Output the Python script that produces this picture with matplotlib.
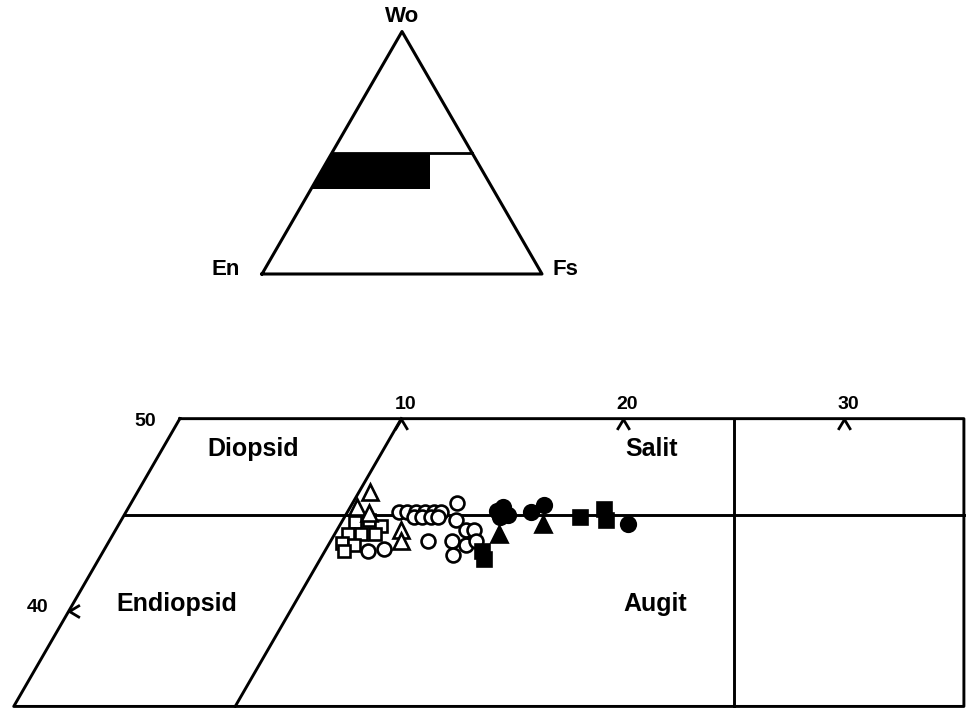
import numpy as np
import matplotlib.pyplot as plt
from matplotlib.path import Path

plt.rcParams['font.family'] = ['Liberation Sans', 'DejaVu Sans']
plt.rcParams['font.weight'] = 'bold'

# pyroxene analyses, (Fs %, Wo %)
open_tri_fs = [10.5, 10.3, 11.0, 12.9, 13.2]
open_tri_wo = [46.2, 45.4, 45.1, 44.2, 43.6]

open_sq_fs = [10.6, 11.2, 11.9, 10.6, 11.2, 11.8, 10.55, 11.15, 10.85]
open_sq_wo = [44.6, 44.7, 44.4, 44.0, 44.0, 44.0, 43.5, 43.4, 43.1]

open_ci_fs = [12.3, 12.7, 13.1, 13.5, 13.9, 14.2, 13.1, 13.5, 13.9, 14.2,
              14.7, 15.1, 15.8, 16.2, 14.4, 15.5, 16.2, 16.55, 15.9, 11.95, 12.6]
open_ci_wo = [45.15, 45.15, 45.15, 45.15, 45.15, 45.15, 44.9, 44.9, 44.9, 44.9,
              45.6, 44.7, 44.2, 44.2, 43.6, 43.6, 43.4, 43.6, 42.9, 43.1, 43.2]

fill_ci_fs = [16.7, 16.9, 17.0, 17.3, 18.3, 18.7, 23.0]
fill_ci_wo = [45.2, 45.4, 44.9, 45.0, 45.15, 45.5, 44.5]

fill_tri_fs = [17.4, 19.15]
fill_tri_wo = [44.0, 44.5]

fill_sq_fs = [17.1, 17.4, 20.6, 21.5, 21.9]
fill_sq_wo = [43.1, 42.7, 44.9, 45.3, 44.7]

# field boundaries
wo_top, wo_mid, wo_bot = 50, 45, 35
fs_div = 10          # Diopsid / Salit boundary
right_x = 60.4       # right frame edge (Fs + Wo/2)
inset_right_x = 60

fs_ticks = [10, 20, 30]
wo_ticks = [40]


def tern(fs, wo):
    fs = np.asarray(fs, dtype=float)
    wo = np.asarray(wo, dtype=float)
    return fs + wo / 2, wo * np.sqrt(3) / 2


def fs_at(x, wo):
    return x - wo / 2


fig = plt.figure(figsize=(9.67, 7.08), dpi=100)

# ---- lower panel: part of the pyroxene quadrilateral
ax = fig.add_axes([0, 0, 1, 1])
ax.set_xlim(16.88, 60.54)
ax.set_ylim(30.24, 62.20)
ax.axis('off')
lw = 2.1
k = dict(color='black', lw=lw, solid_capstyle='projecting', clip_on=False)

# outer frame
fx = [0, fs_at(right_x, wo_top), fs_at(right_x, wo_bot), 0, 0]
fw = [wo_top, wo_top, wo_bot, wo_bot, wo_top]
ax.plot(*tern(fx, fw), **k)
# Wo = 45 line
ax.plot(*tern([0, fs_at(right_x, wo_mid)], [wo_mid, wo_mid]), **k)
# Fs = 10 line
ax.plot(*tern([fs_div, fs_div], [wo_top, wo_bot]), **k)
# En = Fs line (vertical)
ax.plot(*tern([fs_at(50, wo_top), fs_at(50, wo_bot)], [wo_top, wo_bot]), **k)

# tick carets
caret_up = Path([(-0.6, -1), (0, 0), (0.6, -1)], [Path.MOVETO, Path.LINETO, Path.LINETO])
caret_left = Path([(1, 0.6), (0, 0), (1, -0.6)], [Path.MOVETO, Path.LINETO, Path.LINETO])
tx, ty = tern(fs_ticks, [wo_top] * len(fs_ticks))
ax.plot(tx, ty, ls='none', marker=caret_up, ms=15, mfc='none', mec='black', mew=2.0)
for t, x, y in zip(fs_ticks, tx, ty):
    ax.annotate(str(t), (x, y), xytext=(3, 4), textcoords='offset points',
                ha='center', va='bottom', fontsize=14)
wx, wy = tern([0] * len(wo_ticks), wo_ticks)
ax.plot(wx, wy, ls='none', marker=caret_left, ms=15, mfc='none', mec='black', mew=2.0)
for t, x, y in zip(wo_ticks, wx, wy):
    ax.annotate(str(t), (x, y), xytext=(-23, 2), textcoords='offset points',
                ha='center', va='center', fontsize=14)
x50, y50 = tern(0, wo_top)
ax.annotate(str(wo_top), (x50, y50), xytext=(-25, -2), textcoords='offset points',
            ha='center', va='center', fontsize=14)

# field names
fields = ['Diopsid', 'Salit', 'Endiopsid', 'Augit']
field_fs = [4.1, 22.1, 4.7, 26.3]
field_wo = [48.4, 48.4, 40.35, 40.35]
for name, f, w in zip(fields, field_fs, field_wo):
    ax.text(*tern(f, w), name, ha='center', va='center', fontsize=18)

# data points
ms_kw = dict(ls='none', mec='black', mew=1.9, zorder=5)
ax.plot(*tern(open_ci_fs, open_ci_wo), marker='o', ms=10, mfc='white', **ms_kw)
ax.plot(*tern(open_sq_fs, open_sq_wo), marker='s', ms=9, mfc='white', **ms_kw)
ax.plot(*tern(open_tri_fs, open_tri_wo), marker='^', ms=12, mfc='white', **ms_kw)
ax.plot(*tern(fill_ci_fs, fill_ci_wo), marker='o', ms=10.5, mfc='black', **ms_kw)
ax.plot(*tern(fill_sq_fs, fill_sq_wo), marker='s', ms=9.5, mfc='black', **ms_kw)
ax.plot(*tern(fill_tri_fs, fill_tri_wo), marker='^', ms=12, mfc='black', **ms_kw)

# ---- inset: Wo-En-Fs triangle with the shown field blacked in
ins = fig.add_axes([262 / 967, 1 - 274 / 708, 280 / 967, 242.5 / 708])
ins.set_xlim(0, 100)
ins.set_ylim(0, 50 * np.sqrt(3))
ins.axis('off')
ins.plot(*tern([0, 100, 0, 0], [0, 0, 100, 0]), color='black', lw=2.2, clip_on=False)
ins.plot(*tern([0, 100 - wo_top], [wo_top, wo_top]), color='black', lw=2.0)
bx = [0, fs_at(inset_right_x, wo_top), fs_at(inset_right_x, wo_bot), 0]
bw = [wo_top, wo_top, wo_bot, wo_bot]
ins.fill(*tern(bx, bw), color='black', lw=0)
ins.annotate('Wo', tern(0, 100), xytext=(0, 3), textcoords='offset points',
             ha='center', va='bottom', fontsize=16)
ins.annotate('En', tern(0, 0), xytext=(-26, 3), textcoords='offset points',
             ha='center', va='center', fontsize=16)
ins.annotate('Fs', tern(100, 0), xytext=(17, 3), textcoords='offset points',
             ha='center', va='center', fontsize=16)

fig.savefig('out.png', dpi=100)
